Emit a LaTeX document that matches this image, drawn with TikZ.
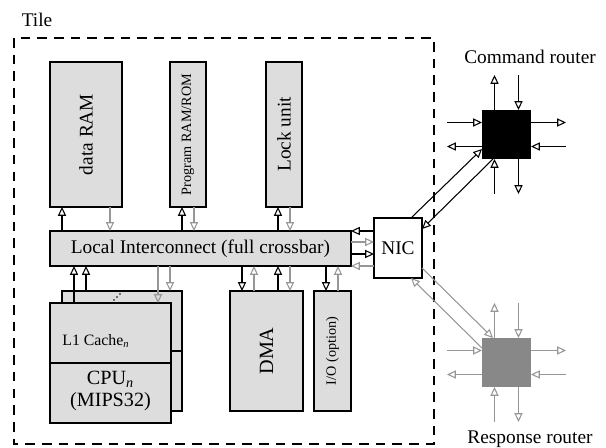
\documentclass[tikz,border=0pt]{standalone}
\usepackage{fontspec}
\setmainfont{Liberation Serif}
\usetikzlibrary{arrows.meta,calc}
\definecolor{boxfill}{RGB}{221,221,221}
\definecolor{linegray}{RGB}{150,150,150}
\definecolor{routerfill}{RGB}{136,136,136}
\tikzset{
  unit/.style={draw,fill=boxfill,line width=0.7pt,inner sep=0pt,outer sep=0pt},
  router/.style={inner sep=0pt,outer sep=0pt,minimum size=0.98cm},
  bk/.style={-{Triangle[open,length=5pt,width=4.6pt]},line width=0.6pt},
  gy/.style={bk,draw=linegray},
  bigtxt/.style={font=\fontsize{11}{13}\selectfont},
  smalltxt/.style={font=\fontsize{8.1}{9.5}\selectfont}
}
\begin{document}
\begin{tikzpicture}[x=0.02cm,y=-0.02cm]
    \useasboundingbox (0,0) rectangle (606,448);
    % tile frame
    \draw [dash pattern=on 5.5pt off 4pt,line width=0.6pt] (14,38) rectangle (434,444);
    \node [bigtxt] (tile) at (37,20) {Tile};
    % memories
    \node [unit,minimum width=1.44cm,minimum height=2.9cm,label={[rotate=90,bigtxt]center:data RAM}] (ram) at (86,134.5) {};
    \node [unit,minimum width=0.72cm,minimum height=2.9cm,label={[rotate=90,smalltxt]center:Program RAM/ROM}] (prog) at (188,134.5) {};
    \node [unit,minimum width=0.72cm,minimum height=2.9cm,label={[rotate=90,bigtxt]center:Lock unit}] (lock) at (284,134.5) {};
    \node [unit,bigtxt,minimum width=6.02cm,minimum height=0.7cm] (xbar) at (200.5,248.5) {Local Interconnect (full crossbar)};
    \node [unit,bigtxt,fill=white,minimum width=0.96cm,minimum height=1.2cm] (nic) at (398,248) {NIC};
    % cpu stack
    \node [unit,minimum width=2.4cm,minimum height=2.4cm] (cpub) at (122,351) {};
    \draw [line width=0.7pt] (cpub.west) -- (cpub.east);
    \foreach \i in {0,1,2}
        \fill ($(cpub.north)+(-8+3*\i,9-3*\i)$) circle (0.45pt);
    \node [unit,minimum width=2.42cm,minimum height=2.4cm] (cpuf) at (110.5,363) {};
    \draw [line width=0.7pt] (cpuf.west) -- (cpuf.east);
    \node [anchor=west,inner sep=0pt,font=\fontsize{9}{11}\selectfont] (cache) at ($(cpuf.north west)+(12,38)$) {L1 Cache\textsubscript{\textit{n}}};
    \node [align=center,font=\fontsize{11.5}{13}\selectfont] (cpu) at ($(cpuf.south)+(0,-32)$) {CPU\textsubscript{\textit{n}}\\(MIPS32)};
    \node [unit,minimum width=1.46cm,minimum height=2.4cm,label={[rotate=90,font=\fontsize{11.5}{13}\selectfont]center:DMA}] (dma) at (266.5,351) {};
    \node [unit,minimum width=0.74cm,minimum height=2.4cm,label={[rotate=90,smalltxt]center:I/O (option)}] (io) at (332.5,351) {};
    % routers
    \node [router,fill=black] (cmd) at (506.5,134.5) {};
    \node [router,fill=routerfill] (rsp) at (506.5,362.5) {};
    \node [bigtxt] (cmdname) at (530,57) {Command router};
    \node [bigtxt] (rspname) at (530,439) {Response router};
    % crossbar to memories
    \foreach \n in {ram,prog,lock}{
        \coordinate (p) at ($(\n.south west)+(12,0)$);
        \coordinate (q) at ($(\n.south east)+(-12,0)$);
        \draw [bk] (p |- xbar.north) -- (p);
        \draw [gy] (q) -- (q |- xbar.north);
    }
    % crossbar to cpu, dma, io
    \foreach \n/\dx/\s in {cpuf/24/bk,cpub/24/bk,dma/24/gy,dma/48/bk,io/24/gy}{
        \coordinate (p) at ($(\n.north west)+(\dx,0)$);
        \draw [\s] (p) -- (p |- xbar.south);
    }
    \foreach \n/\dx/\s in {cpuf/108/gy,cpub/108/gy,dma/12/bk,dma/60/gy,io/12/bk}{
        \coordinate (p) at ($(\n.north west)+(\dx,0)$);
        \draw [\s] (p |- xbar.south) -- (p);
    }
    % crossbar to nic
    \coordinate (a) at ($(xbar.north east)+(0,11)$);
    \coordinate (b) at ($(xbar.north east)+(0,23)$);
    \draw [bk] (nic.west |- xbar.north east) -- (xbar.north east);
    \draw [gy] (a) -- (a -| nic.west);
    \draw [bk] (b) -- (b -| nic.west);
    \draw [gy] (nic.west |- xbar.south east) -- (xbar.south east);
    % router ports
    \foreach \r/\s in {cmd/bk,rsp/gy}{
        \draw [\s] ($(\r.north)+(-12,0)$) -- ++(0,-35);
        \draw [\s] ($(\r.north)+(12,-35)$) -- ++(0,35);
        \draw [\s] ($(\r.east)+(0,-12)$) -- ++(35,0);
        \draw [\s] ($(\r.east)+(35,12)$) -- ++(-35,0);
        \draw [\s] ($(\r.south)+(12,0)$) -- ++(0,35);
        \draw [\s] ($(\r.south)+(-12,35)$) -- ++(0,-35);
        \draw [\s] ($(\r.west)+(0,12)$) -- ++(-35,0);
        \draw [\s] ($(\r.west)+(-35,-12)$) -- ++(35,0);
    }
    % nic to routers
    \draw [bk] ($(nic.north east)+(-11,0)$) -- ($(cmd.south west)+(0,-10)$);
    \draw [bk] ($(cmd.south west)+(11,0)$) -- ($(nic.north east)+(0,11)$);
    \draw [gy] ($(nic.south east)+(0,-10)$) -- ($(rsp.north west)+(11,0)$);
    \draw [gy] ($(rsp.north west)+(0,10)$) -- ($(nic.south east)+(-11,0)$);
\end{tikzpicture}
\end{document}
